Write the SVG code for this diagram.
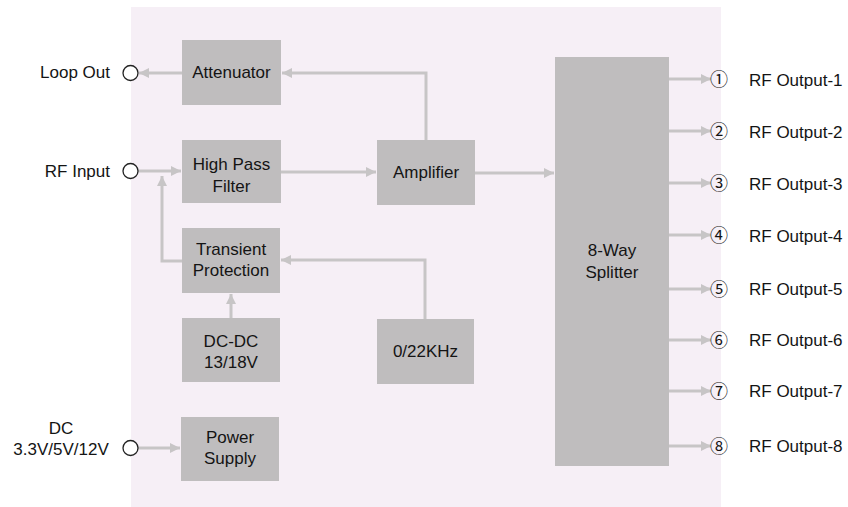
<svg xmlns="http://www.w3.org/2000/svg" width="848" height="507" viewBox="0 0 848 507">
<style>
.box{fill:#bfbdbe}
.t{font-family:"Liberation Sans",Arial,sans-serif;font-size:17px;fill:#141414}
.c{text-anchor:middle}
.e{text-anchor:end}
.ln{fill:none;stroke:#c7c5c6;stroke-width:3}
.port{fill:#fff;stroke:#222;stroke-width:1.3}
.num{font-family:"Noto Sans CJK SC","Noto Sans CJK JP",sans-serif;font-size:18px;fill:#141414;text-anchor:middle}
</style>
<defs>
<marker id="ah" viewBox="0 0 10 10" refX="10" refY="5" markerWidth="11" markerHeight="10" markerUnits="userSpaceOnUse" orient="auto">
<path d="M0,0 L10,5 L0,10 Z" fill="#c7c5c6"/>
</marker>
</defs>
<rect x="131" y="7" width="590" height="500" fill="#f6eff6"/>

<g id="connectors">
<path class="ln" d="M182,73 H139" marker-end="url(#ah)"/>
<path class="ln" d="M426,140 V73 H282" marker-end="url(#ah)"/>
<path class="ln" d="M138,171 H181" marker-end="url(#ah)"/>
<path class="ln" d="M281,172 H376" marker-end="url(#ah)"/>
<path class="ln" d="M475,173 H554" marker-end="url(#ah)"/>
<path class="ln" d="M182,261 H162 V176" marker-end="url(#ah)"/>
<path class="ln" d="M425,319 V260 H281" marker-end="url(#ah)"/>
<path class="ln" d="M231,318 V294" marker-end="url(#ah)"/>
<path class="ln" d="M138,448 H180" marker-end="url(#ah)"/>
<path class="ln" d="M669,79 H711" marker-end="url(#ah)"/>
<path class="ln" d="M669,131 H711" marker-end="url(#ah)"/>
<path class="ln" d="M669,183 H711" marker-end="url(#ah)"/>
<path class="ln" d="M669,235 H711" marker-end="url(#ah)"/>
<path class="ln" d="M669,289 H711" marker-end="url(#ah)"/>
<path class="ln" d="M669,340 H711" marker-end="url(#ah)"/>
<path class="ln" d="M669,391 H711" marker-end="url(#ah)"/>
<path class="ln" d="M669,446 H711" marker-end="url(#ah)"/>
</g>

<g id="attenuator"><rect class="box" x="182" y="40" width="99" height="65"/><text class="t c" x="231.5" y="78">Attenuator</text></g>
<g id="hpf"><rect class="box" x="182" y="140" width="99" height="63"/><text class="t c" x="231.5" y="170">High Pass</text><text class="t c" x="231.5" y="192">Filter</text></g>
<g id="transient"><rect class="box" x="182" y="228" width="98" height="65"/><text class="t c" x="231" y="255">Transient</text><text class="t c" x="231" y="276">Protection</text></g>
<g id="dcdc"><rect class="box" x="182" y="318" width="98" height="64"/><text class="t c" x="231" y="347">DC-DC</text><text class="t c" x="231" y="368">13/18V</text></g>
<g id="power"><rect class="box" x="181" y="417" width="98" height="64"/><text class="t c" x="230" y="443">Power</text><text class="t c" x="230" y="464">Supply</text></g>
<g id="amplifier"><rect class="box" x="377" y="140" width="98" height="65"/><text class="t c" x="426" y="178">Amplifier</text></g>
<g id="khz"><rect class="box" x="377" y="319" width="97" height="65"/><text class="t c" x="425.5" y="357">0/22KHz</text></g>
<g id="splitter"><rect class="box" x="555" y="57" width="114" height="409"/><text class="t c" x="612" y="256">8-Way</text><text class="t c" x="612" y="278">Splitter</text></g>

<g id="loopout"><circle class="port" cx="130.5" cy="73" r="7.5"/><text class="t e" x="110" y="78">Loop Out</text></g>
<g id="rfinput"><circle class="port" cx="130.5" cy="171" r="7.5"/><text class="t e" x="110" y="177">RF Input</text></g>
<g id="dcin"><circle class="port" cx="130.5" cy="448" r="7.5"/><text class="t c" x="61" y="434">DC</text><text class="t c" x="61" y="455">3.3V/5V/12V</text></g>

<g id="out1"><text class="num" x="719" y="86">①</text><text class="t" x="749" y="86">RF Output-1</text></g>
<g id="out2"><text class="num" x="719" y="138">②</text><text class="t" x="749" y="138">RF Output-2</text></g>
<g id="out3"><text class="num" x="719" y="190">③</text><text class="t" x="749" y="190">RF Output-3</text></g>
<g id="out4"><text class="num" x="719" y="242">④</text><text class="t" x="749" y="242">RF Output-4</text></g>
<g id="out5"><text class="num" x="719" y="296">⑤</text><text class="t" x="749" y="295">RF Output-5</text></g>
<g id="out6"><text class="num" x="719" y="347">⑥</text><text class="t" x="749" y="346">RF Output-6</text></g>
<g id="out7"><text class="num" x="719" y="398">⑦</text><text class="t" x="749" y="397">RF Output-7</text></g>
<g id="out8"><text class="num" x="719" y="453">⑧</text><text class="t" x="749" y="452">RF Output-8</text></g>
</svg>
